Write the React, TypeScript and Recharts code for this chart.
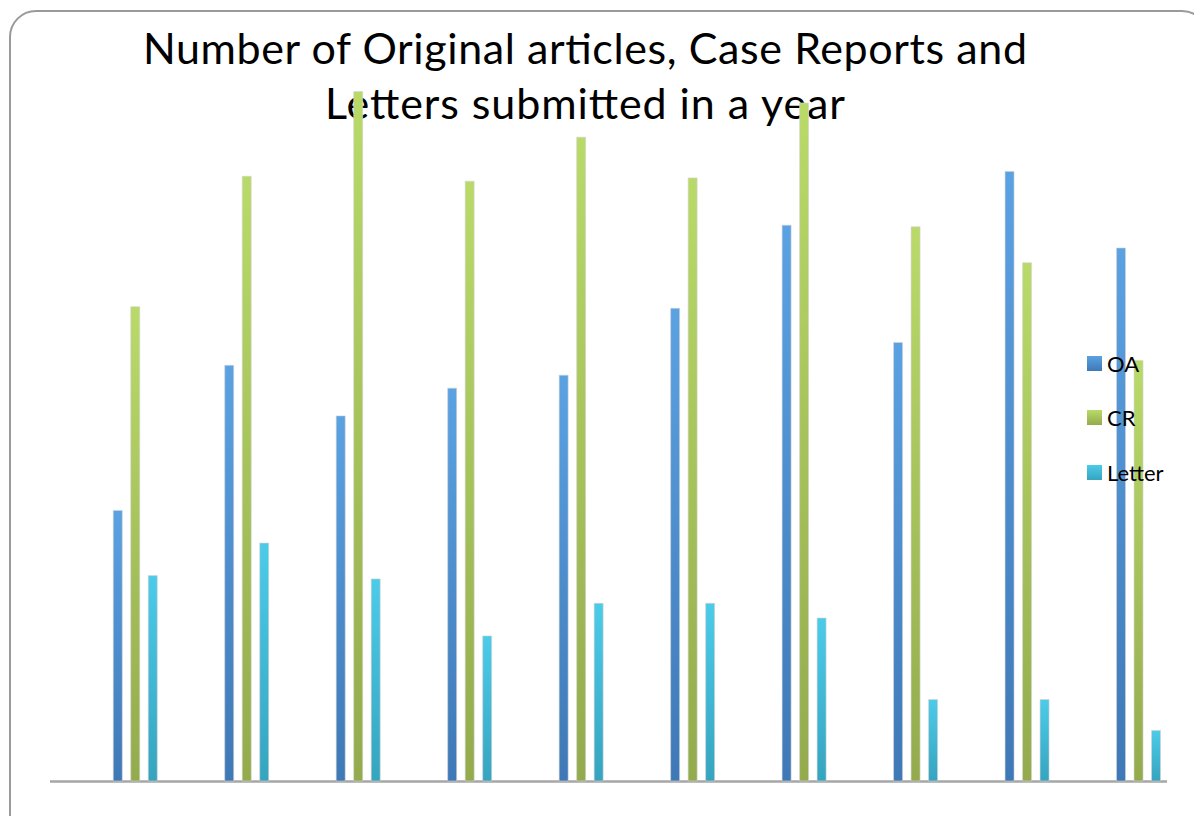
import { Bar, BarChart, Legend, XAxis, YAxis } from "recharts";

const categories = ["1", "2", "3", "4", "5", "6", "7", "8", "9", "10"];
const oaValues = [16.6, 25.5, 22.4, 24.1, 24.9, 29.0, 34.1, 26.9, 37.4, 32.7];
const crValues = [29.1, 37.1, 42.3, 36.8, 39.5, 37.0, 41.6, 34.0, 31.8, 25.8];
const letterValues = [12.6, 14.6, 12.4, 8.9, 10.9, 10.9, 10.0, 5.0, 5.0, 3.1];

const titleLines = ["Number of Original articles, Case Reports and", "Letters submitted in a year"];

const data = categories.map((c, i) => ({
    name: c,
    OA: oaValues[i],
    CR: crValues[i],
    Letter: letterValues[i],
}));

const series = [
    { key: "OA", id: "gOA", top: "#5ba2e3", bottom: "#3f78b6" },
    { key: "CR", id: "gCR", top: "#b9da69", bottom: "#93ab4d" },
    { key: "Letter", id: "gLetter", top: "#4ccbe9", bottom: "#36a4bf" },
];

const font = "Lato, 'Open Sans', sans-serif";

const LegendBox = () => (
    <div style={{ fontFamily: font, fontSize: 22, color: "#000" }}>
        {series.map((s) => (
            <div key={s.key} style={{ height: 54.5, display: "flex", alignItems: "center" }}>
                <span
                    style={{
                        width: 15,
                        height: 15,
                        marginRight: 5,
                        background: `linear-gradient(${s.top}, ${s.bottom})`,
                    }}
                />
                <span>{s.key}</span>
            </div>
        ))}
    </div>
);

const App = () => {
    return (
        <div style={{ position: "absolute", left: 0, top: 0, width: 1194, height: 816, background: "#fff" }}>
            <svg width={1194} height={816} style={{ position: "absolute", left: 0, top: 0 }}>
                <rect x={10} y={11} width={1198} height={830} rx={26} fill="#fff" stroke="#9a9a9a" strokeWidth={2} />
                <text x={585} y={64} textAnchor="middle" fontFamily={font} fontSize={43} fill="#000"
                    textLength={884} lengthAdjust="spacing">
                    {titleLines[0]}
                </text>
                <text x={585} y={119} textAnchor="middle" fontFamily={font} fontSize={43} fill="#000"
                    textLength={520} lengthAdjust="spacing">
                    {titleLines[1]}
                </text>
                <line x1={50} x2={1167} y1={781.5} y2={781.5} stroke="#a6a6a6" strokeWidth={2.5} />
            </svg>
            <div style={{ position: "absolute", left: 0, top: 0 }}>
                <BarChart
                    width={1194}
                    height={816}
                    data={data}
                    margin={{ top: 47.5, right: 0, bottom: 35, left: 79.25 }}
                    barSize={9}
                    barGap={8.5}
                >
                    <defs>
                        {series.map((s) => (
                            <linearGradient key={s.id} id={s.id} x1="0" y1="0" x2="0" y2="1">
                                <stop offset="0%" stopColor={s.top} />
                                <stop offset="100%" stopColor={s.bottom} />
                            </linearGradient>
                        ))}
                    </defs>
                    <XAxis dataKey="name" hide />
                    <YAxis hide domain={[0, 45]} />
                    <Legend
                        layout="vertical"
                        align="center"
                        verticalAlign="middle"
                        content={() => <LegendBox />}
                        wrapperStyle={{ left: 1087, top: 336, width: 100 }}
                    />
                    {series.map((s) => (
                        <Bar
                            key={s.key}
                            dataKey={s.key}
                            fill={`url(#${s.id})`}
                            stroke="#d4d4d4"
                            strokeWidth={0.6}
                            isAnimationActive={false}
                        />
                    ))}
                </BarChart>
            </div>
        </div>
    );
};

export default App;
